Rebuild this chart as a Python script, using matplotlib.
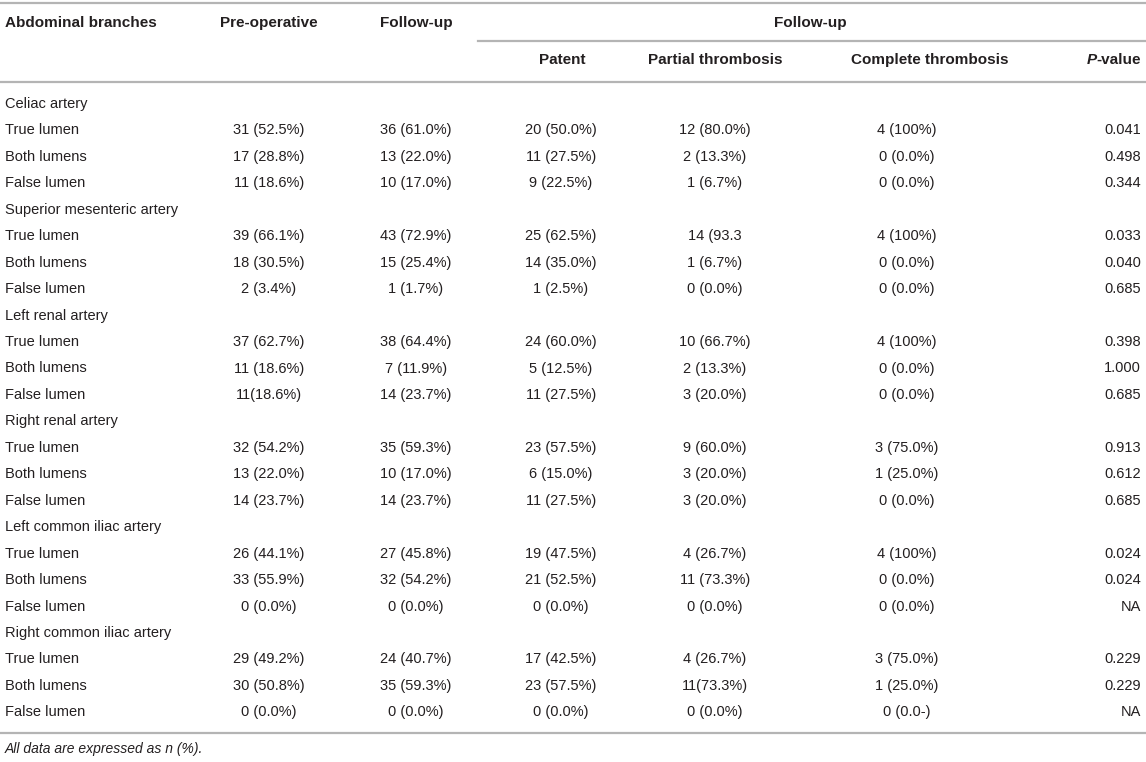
import matplotlib
matplotlib.use("Agg")
import matplotlib.pyplot as plt

plt.rcParams.update({"font.family": ["Liberation Sans", "DejaVu Sans"], "font.size": 10.5})

groups = ["Celiac artery", "Superior mesenteric artery", "Left renal artery",
          "Right renal artery", "Left common iliac artery", "Right common iliac artery"]
subrows = ["True lumen", "Both lumens", "False lumen"]
pre_op = ["31 (52.5%)", "17 (28.8%)", "11 (18.6%)",
          "39 (66.1%)", "18 (30.5%)", "2 (3.4%)",
          "37 (62.7%)", "11 (18.6%)", "11(18.6%)",
          "32 (54.2%)", "13 (22.0%)", "14 (23.7%)",
          "26 (44.1%)", "33 (55.9%)", "0 (0.0%)",
          "29 (49.2%)", "30 (50.8%)", "0 (0.0%)"]
follow_up = ["36 (61.0%)", "13 (22.0%)", "10 (17.0%)",
             "43 (72.9%)", "15 (25.4%)", "1 (1.7%)",
             "38 (64.4%)", "7 (11.9%)", "14 (23.7%)",
             "35 (59.3%)", "10 (17.0%)", "14 (23.7%)",
             "27 (45.8%)", "32 (54.2%)", "0 (0.0%)",
             "24 (40.7%)", "35 (59.3%)", "0 (0.0%)"]
patent = ["20 (50.0%)", "11 (27.5%)", "9 (22.5%)",
          "25 (62.5%)", "14 (35.0%)", "1 (2.5%)",
          "24 (60.0%)", "5 (12.5%)", "11 (27.5%)",
          "23 (57.5%)", "6 (15.0%)", "11 (27.5%)",
          "19 (47.5%)", "21 (52.5%)", "0 (0.0%)",
          "17 (42.5%)", "23 (57.5%)", "0 (0.0%)"]
partial = ["12 (80.0%)", "2 (13.3%)", "1 (6.7%)",
           "14 (93.3", "1 (6.7%)", "0 (0.0%)",
           "10 (66.7%)", "2 (13.3%)", "3 (20.0%)",
           "9 (60.0%)", "3 (20.0%)", "3 (20.0%)",
           "4 (26.7%)", "11 (73.3%)", "0 (0.0%)",
           "4 (26.7%)", "11(73.3%)", "0 (0.0%)"]
complete = ["4 (100%)", "0 (0.0%)", "0 (0.0%)",
            "4 (100%)", "0 (0.0%)", "0 (0.0%)",
            "4 (100%)", "0 (0.0%)", "0 (0.0%)",
            "3 (75.0%)", "1 (25.0%)", "0 (0.0%)",
            "4 (100%)", "0 (0.0%)", "0 (0.0%)",
            "3 (75.0%)", "1 (25.0%)", "0 (0.0-)"]
p_values = ["0.041", "0.498", "0.344",
            "0.033", "0.040", "0.685",
            "0.398", "1.000", "0.685",
            "0.913", "0.612", "0.685",
            "0.024", "0.024", "NA",
            "0.229", "0.229", "NA"]
footnote = "All data are expressed as n (%)."

W, H = 1146, 762
fig = plt.figure(figsize=(W / 100, H / 100), dpi=100)
ax = fig.add_axes([0, 0, 1, 1])
ax.set_xlim(0, W); ax.set_ylim(H, 0); ax.axis("off")

txt = "#231f20"
line_c = "#b4b4b4"
lw = 1.6
hs = 11

# header
ax.axhline(3, color=line_c, lw=lw)
ax.text(5, 23, "Abdominal branches", fontweight="bold", fontsize=hs, va="center", ha="left", color=txt)
ax.text(269, 23, "Pre-operative", fontweight="bold", fontsize=hs, va="center", ha="center", color=txt)
ax.text(416, 23, "Follow-up", fontweight="bold", fontsize=hs, va="center", ha="center", color=txt)
ax.text(810, 23, "Follow-up", fontweight="bold", fontsize=hs, va="center", ha="center", color=txt)
ax.plot([478, W], [41, 41], color=line_c, lw=lw)
col_x = [562, 715, 930]
for x, h in zip(col_x, ["Patent", "Partial thrombosis", "Complete thrombosis"]):
    ax.text(x, 60, h, fontweight="bold", fontsize=hs, va="center", ha="center", color=txt)
pv = ax.text(1141, 60, "-value", fontweight="bold", fontsize=hs, va="center", ha="right", color=txt)
ax.annotate("P", xy=(0, 0.5), xycoords=pv, ha="right", va="center", fontweight="bold",
            style="italic", fontsize=hs, color=txt)
ax.axhline(82, color=line_c, lw=lw)

# body
y0, dy = 104, 26.45
cols = [(269, "center", pre_op), (416, "center", follow_up), (561, "center", patent),
        (715, "center", partial), (907, "center", complete), (1141, "right", p_values)]
k = 0
row = 0
for g in groups:
    ax.text(5, y0 + row * dy, g, va="center", ha="left", color=txt)
    row += 1
    for s in subrows:
        y = y0 + row * dy
        ax.text(5, y, s, va="center", ha="left", color=txt)
        for x, ha, vals in cols:
            ax.text(x, y, vals[k], va="center", ha=ha, color=txt)
        k += 1
        row += 1

ax.axhline(733, color=line_c, lw=lw)
ax.text(5, 749, footnote, style="italic", va="center", ha="left", color=txt, fontsize=10)

fig.savefig("out.png", dpi=100, facecolor="white")
